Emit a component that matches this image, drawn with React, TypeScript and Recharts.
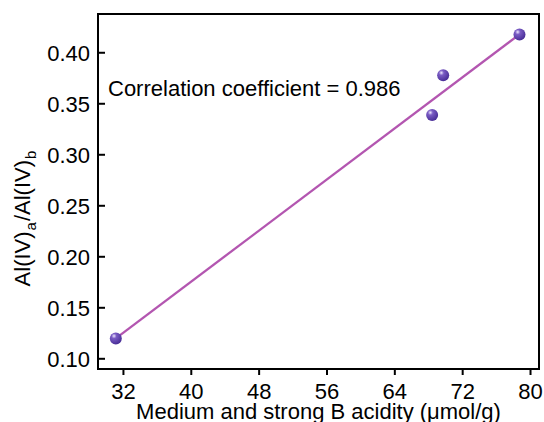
import React from 'react';
import { ComposedChart, Line, Scatter, XAxis, YAxis, ReferenceArea } from 'recharts';

// measured points
const acidity = [31.1, 68.4, 69.7, 78.7];
const ratio = [0.12, 0.339, 0.378, 0.418];

// linear fit drawn between first and last points
const fitX = [31.1, 78.7];
const fitY = [0.12, 0.418];

const xTicks = [32, 40, 48, 56, 64, 72, 80];
const yTicks = [0.1, 0.15, 0.2, 0.25, 0.3, 0.35, 0.4];

const xDomain = [29, 81];
const yDomain = [0.09, 0.438];

const points = acidity.map((x, i) => ({ x, y: ratio[i] }));
const fitLine = fitX.map((x, i) => ({ x, y: fitY[i] }));

const FONT = '"Liberation Sans", Arial, sans-serif';

const Ball = (props: any) => {
  const { cx, cy, index } = props;
  const id = `ball${index}`;
  return (
    <g>
      <defs>
        <radialGradient id={id} cx="35%" cy="30%" r="70%">
          <stop offset="0%" stopColor="#efe9ff" />
          <stop offset="30%" stopColor="#7a5cc4" />
          <stop offset="100%" stopColor="#4a2f98" />
        </radialGradient>
      </defs>
      <circle cx={cx} cy={cy} r={6} fill={`url(#${id})`} />
    </g>
  );
};

const YTick = (props: any) => {
  const { x, y, payload } = props;
  return (
    <g>
      <line x1={x + 8} x2={x + 15} y1={y} y2={y} stroke="#000" strokeWidth={2} />
      <text x={x} y={y} dy="0.36em" textAnchor="end" fontSize={22} fill="#000" fontFamily={FONT}>
        {payload.value.toFixed(2)}
      </text>
    </g>
  );
};

const YLabel = (props: any) => {
  const { viewBox } = props;
  const cx = viewBox.x + 30;
  const cy = viewBox.y + viewBox.height / 2 + 27;
  return (
    <text
      x={cx}
      y={cy}
      transform={`rotate(-90 ${cx} ${cy})`}
      textAnchor="middle"
      fontSize={22}
      fill="#000"
      fontFamily={FONT}
    >
      <tspan>Al(IV)</tspan>
      <tspan fontSize={15} dy={6} dx={1}>a</tspan>
      <tspan dy={-6} dx={1}>/Al(IV)</tspan>
      <tspan fontSize={15} dy={6} dx={1}>b</tspan>
    </text>
  );
};

const XLabel = (props: any) => {
  const { viewBox } = props;
  return (
    <text
      x={viewBox.x + viewBox.width / 2}
      y={viewBox.y + 50}
      textAnchor="middle"
      fontSize={22}
      fill="#000"
      fontFamily={FONT}
    >
      Medium and strong B acidity (μmol/g)
    </text>
  );
};

export default function App() {
  return (
    <div style={{ position: 'absolute', left: 0, top: 0, width: 544, height: 422, background: '#fff' }}>
      <ComposedChart width={544} height={422} margin={{ top: 14, right: 5, left: 0, bottom: 0 }}>
        <XAxis
          xAxisId="main"
          dataKey="x"
          type="number"
          domain={xDomain}
          ticks={xTicks}
          allowDataOverflow
          height={53}
          tickSize={6}
          tickMargin={8}
          axisLine={{ stroke: '#000', strokeWidth: 2 }}
          tickLine={{ stroke: '#000', strokeWidth: 2 }}
          tick={{ fill: '#000', fontSize: 22, fontFamily: FONT }}
          label={<XLabel />}
        />
        <YAxis
          yAxisId="main"
          type="number"
          domain={yDomain}
          ticks={yTicks}
          allowDataOverflow
          width={98}
          tickSize={0}
          tickMargin={8}
          tickLine={false}
          axisLine={{ stroke: '#000', strokeWidth: 2 }}
          tick={<YTick />}
          label={<YLabel />}
        />
        <ReferenceArea
          xAxisId="main"
          yAxisId="main"
          x1={xDomain[0]}
          x2={xDomain[1]}
          y1={yDomain[0]}
          y2={yDomain[1]}
          fill="none"
          fillOpacity={0}
          stroke="#000"
          strokeWidth={2}
          strokeOpacity={1}
          ifOverflow="visible"
        />
        <Line
          xAxisId="main"
          yAxisId="main"
          data={fitLine}
          dataKey="y"
          stroke="#b356b0"
          strokeWidth={2.3}
          dot={false}
          activeDot={false}
          isAnimationActive={false}
        />
        <Scatter
          xAxisId="main"
          yAxisId="main"
          data={points}
          dataKey="y"
          shape={<Ball />}
          isAnimationActive={false}
        />
      </ComposedChart>
      <svg width={544} height={422} style={{ position: 'absolute', left: 0, top: 0, pointerEvents: 'none' }}>
        <text x={108} y={96} fontSize={22} fill="#000" fontFamily={FONT}>
          Correlation coefficient = 0.986
        </text>
      </svg>
    </div>
  );
}
